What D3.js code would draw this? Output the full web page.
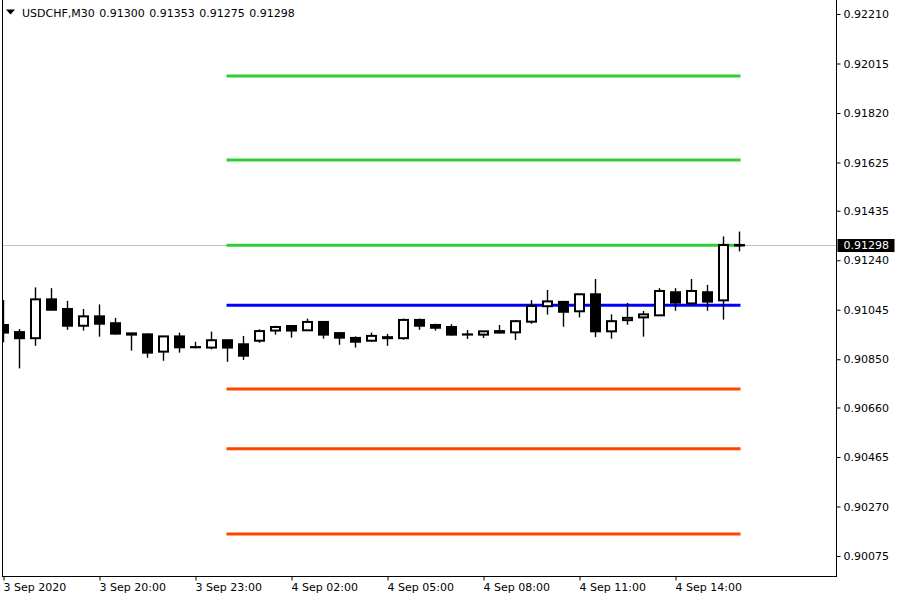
<!DOCTYPE html>
<html><head><meta charset="utf-8">
<script src="https://cdn.jsdelivr.net/npm/d3@7"></script>
<style>
body{margin:0;background:#fff}
svg text{font-family:"DejaVu Sans",sans-serif;font-size:11px;fill:#000}
</style>
</head><body>
<svg id="chart" width="900" height="600"></svg>
<script>
// ---- data ----
const symbol = "USDCHF,M30";
const startTime = "2020-09-03T17:00:00";
const opens  = [0.90985,0.90957,0.90933,0.91086,0.91048,0.90982,0.91019,0.90992,0.90952,0.90948,0.90880,0.90940,0.90898,0.90896,0.90925,0.90909,0.90923,0.90963,0.90981,0.90964,0.90997,0.90953,0.90934,0.90923,0.90937,0.90933,0.91005,0.90985,0.90977,0.90948,0.90947,0.90961,0.90956,0.90998,0.91059,0.91076,0.91039,0.91106,0.90960,0.91004,0.91015,0.91023,0.91114,0.91070,0.91114,0.91082,0.91300];
const highs  = [0.91083,0.90969,0.91133,0.91130,0.91080,0.91048,0.91066,0.91013,0.90952,0.90952,0.90940,0.90955,0.90919,0.90959,0.90925,0.90942,0.90968,0.90982,0.90981,0.91010,0.90997,0.90957,0.90940,0.90955,0.90950,0.91010,0.91010,0.90990,0.90988,0.90965,0.90960,0.90985,0.91005,0.91083,0.91123,0.91080,0.91106,0.91166,0.91027,0.91072,0.91040,0.91130,0.91130,0.91166,0.91143,0.91334,0.91353];
const lows   = [0.90917,0.90814,0.90903,0.91043,0.90966,0.90963,0.90939,0.90947,0.90884,0.90856,0.90844,0.90876,0.90893,0.90889,0.90840,0.90847,0.90915,0.90947,0.90935,0.90964,0.90931,0.90907,0.90896,0.90919,0.90903,0.90927,0.90966,0.90963,0.90943,0.90930,0.90934,0.90952,0.90926,0.90990,0.91026,0.90978,0.91015,0.90937,0.90931,0.90986,0.90939,0.91023,0.91041,0.91070,0.91041,0.91006,0.91275];
const closes = [0.90955,0.90933,0.91086,0.91045,0.90982,0.91019,0.90990,0.90951,0.90947,0.90876,0.90940,0.90897,0.90898,0.90925,0.90896,0.90864,0.90961,0.90977,0.90963,0.90997,0.90947,0.90935,0.90919,0.90942,0.90933,0.91005,0.90982,0.90974,0.90947,0.90948,0.90960,0.90955,0.91000,0.91060,0.91078,0.91037,0.91106,0.90960,0.91000,0.91013,0.91027,0.91119,0.91073,0.91119,0.91077,0.91300,0.91298];

// pivot-style levels (R3, R2, R1, P, S1, S2, S3)
const levelValues = [0.91966,0.91635,0.91299,0.91063,0.90733,0.90497,0.90162];
const levelKinds  = ["res","res","res","pivot","sup","sup","sup"];
const levelFrom = "2020-09-04T00:00:00";

const priceTicks = [0.92210,0.92015,0.91820,0.91625,0.91435,0.91240,0.91045,0.90850,0.90660,0.90465,0.90270,0.90075];
const timeTickValues = ["2020-09-03T17:00:00","2020-09-03T20:00:00","2020-09-03T23:00:00","2020-09-04T02:00:00","2020-09-04T05:00:00","2020-09-04T08:00:00","2020-09-04T11:00:00","2020-09-04T14:00:00"];
const timeTickLabels = ["3 Sep 2020","3 Sep 20:00","3 Sep 23:00","4 Sep 02:00","4 Sep 05:00","4 Sep 08:00","4 Sep 11:00","4 Sep 14:00"];

// ---- styles ----
const kindColor = {res:"#32cd32", pivot:"#0000ff", sup:"#ff4500"};

// ---- build ----
const t0 = new Date(startTime);
const bars = opens.map((o,i)=>({
  t: d3.timeMinute.offset(t0, 30*i), o, h: highs[i], l: lows[i], c: closes[i]
}));
const last = bars[bars.length-1];

const svg = d3.select("#chart");
const W = 900, H = 600;
const plotL = 2, plotR = 836, plotB = 576, plotT = 0;

svg.append("rect").attr("width",W).attr("height",H).attr("fill","#fff");

const x = d3.scaleTime().domain([bars[0].t, last.t]).range([3.5, 739.5]);
const y = d3.scaleLinear().domain([0.90075, 0.92210]).range([556, 14]);

svg.append("defs").append("clipPath").attr("id","plotclip")
  .append("rect").attr("x",plotL+1).attr("y",plotT).attr("width",plotR-plotL-1).attr("height",plotB-plotT);

const plot = svg.append("g").attr("clip-path","url(#plotclip)");

// bid line
plot.append("line")
  .attr("x1",plotL).attr("x2",plotR)
  .attr("y1",y(last.c)).attr("y2",y(last.c))
  .attr("stroke","#c0c0c0").attr("stroke-width",1);

// levels
const lf = new Date(levelFrom);
plot.selectAll("line.level").data(levelValues).join("line")
  .attr("class","level")
  .attr("x1",x(lf)-1).attr("x2",x(last.t)+1)
  .attr("y1",d=>y(d)).attr("y2",d=>y(d))
  .attr("stroke",(d,i)=>kindColor[levelKinds[i]])
  .attr("stroke-width",3);

// candles
const cg = plot.selectAll("g.candle").data(bars).join("g").attr("class","candle");
cg.append("line")
  .attr("x1",d=>x(d.t)).attr("x2",d=>x(d.t))
  .attr("y1",d=>y(d.h)).attr("y2",d=>y(d.l))
  .attr("stroke","#000").attr("stroke-width",1.4);
cg.append("rect")
  .attr("x",d=>x(d.t)-4.5).attr("width",9)
  .attr("y",d=>y(Math.max(d.o,d.c)))
  .attr("height",d=>Math.max(0.2, Math.abs(y(d.o)-y(d.c))))
  .attr("fill",d=>d.c>d.o?"#fff":"#000")
  .attr("stroke","#000").attr("stroke-width",2);

// frame
svg.append("line").attr("x1",plotL+0.5).attr("x2",plotL+0.5).attr("y1",0).attr("y2",plotB).attr("stroke","#000");

// axes
const xAxis = d3.axisBottom(x).tickValues(timeTickValues.map(s=>new Date(s)))
  .tickFormat((d,i)=>timeTickLabels[i]).tickSize(4).tickSizeOuter(0).tickPadding(3);
const gx = svg.append("g").attr("transform",`translate(0,${plotB+0.5})`).call(xAxis);
gx.select(".domain").remove();
gx.selectAll(".tick text").attr("text-anchor","start").attr("dx","-0.5").style("font-family","DejaVu Sans").style("font-size","11px");
svg.append("line").attr("x1",plotL).attr("x2",plotR+0.5).attr("y1",plotB+0.5).attr("y2",plotB+0.5).attr("stroke","#000");

const yAxis = d3.axisRight(y).tickValues(priceTicks).tickFormat(d3.format(".5f"))
  .tickSize(4).tickSizeOuter(0).tickPadding(3);
const gy = svg.append("g").attr("transform",`translate(${plotR+0.5},0)`).call(yAxis);
gy.select(".domain").remove();
gy.selectAll(".tick text").style("font-family","DejaVu Sans").style("font-size","11px");
svg.append("line").attr("x1",plotR+0.5).attr("x2",plotR+0.5).attr("y1",0).attr("y2",plotB+1).attr("stroke","#000");

// current price label
const py = y(last.c);
svg.append("rect").attr("x",plotR+1.5).attr("y",py-6.5).attr("width",57).attr("height",13).attr("fill","#000");
svg.append("text").attr("x",plotR+7.5).attr("y",py).attr("dy","0.35em")
  .style("fill","#fff").text(d3.format(".5f")(last.c));

// header
svg.append("path").attr("d","M6,9.5 L15,9.5 L10.5,14.5 Z").attr("fill","#000");
svg.append("text").attr("x",22).attr("y",17).style("word-spacing","1px")
  .text(`${symbol} ${[last.o,last.h,last.l,last.c].map(d3.format(".5f")).join(" ")}`);
</script>
</body></html>
